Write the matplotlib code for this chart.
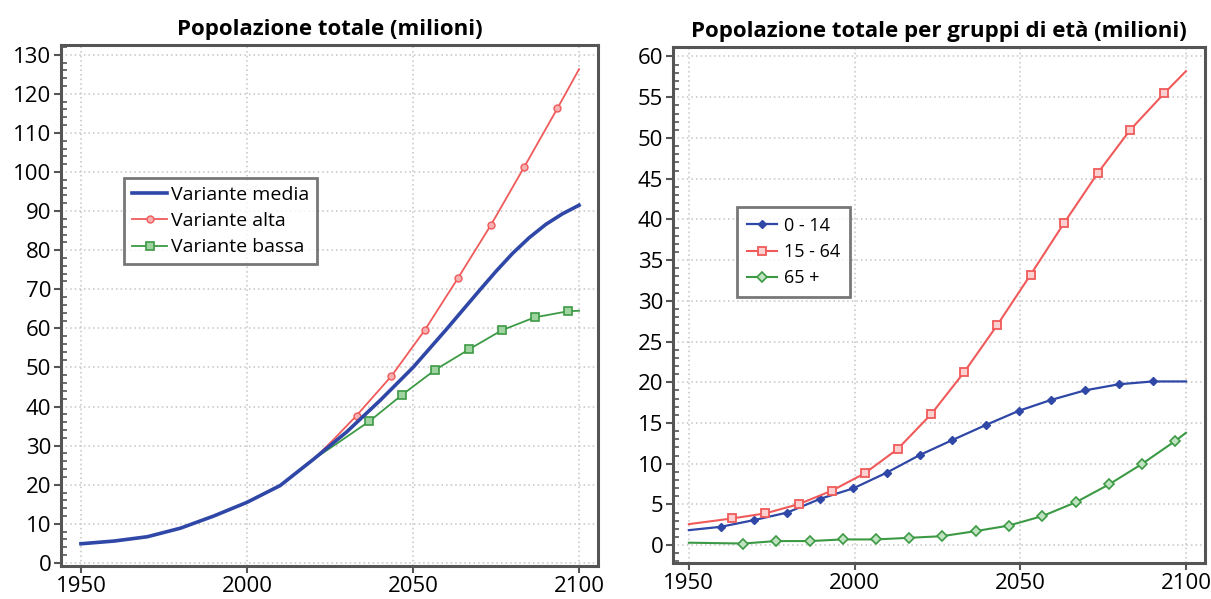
import matplotlib
matplotlib.use("Agg")
import matplotlib.pyplot as plt
from matplotlib.ticker import MultipleLocator

plt.rcParams['font.family'] = ['Open Sans', 'DejaVu Sans']

# --- left chart: total population (millions)
media_years = [1950, 1960, 1970, 1980, 1990, 2000, 2010, 2020, 2030, 2040,
               2050, 2060, 2070, 2075, 2080, 2085, 2090, 2095, 2100]
media_vals = [4.9, 5.6, 6.7, 8.9, 12.0, 15.5, 19.8, 26.5, 33.5, 41.5,
              50.0, 59.7, 69.7, 74.6, 79.2, 83.2, 86.6, 89.3, 91.5]

alta_years = [2020, 2026, 2033, 2043.5, 2053.5, 2063.5, 2073.5, 2083.5, 2093.5, 2100]
alta_vals = [26.5, 31.5, 37.7, 47.8, 59.5, 72.8, 86.5, 101.3, 116.3, 126.3]

bassa_years = [2020, 2027, 2036.8, 2046.7, 2056.7, 2067, 2076.7, 2086.6, 2096.8, 2100]
bassa_vals = [26.5, 30.5, 36.2, 43.0, 49.4, 54.7, 59.5, 62.8, 64.4, 64.5]

# --- right chart: population by age group (millions)
g014_years = [1950, 1959.6, 1969.6, 1979.7, 1989.7, 1999.6, 2009.7, 2019.7, 2029.5,
              2039.6, 2049.6, 2059.3, 2069.5, 2079.7, 2090, 2100]
g014_vals = [1.84, 2.25, 3.07, 4.0, 5.7, 6.97, 8.9, 11.07, 12.9,
             14.75, 16.5, 17.83, 19.0, 19.75, 20.1, 20.1]

g1564_years = [1950, 1963.1, 1973.1, 1983.2, 1993.1, 2003, 2013, 2023.1, 2033,
               2043.1, 2053.1, 2063.3, 2073.4, 2083.2, 2093.5, 2100]
g1564_vals = [2.58, 3.28, 3.9, 5.04, 6.68, 8.8, 11.8, 16.07, 21.2,
              27.05, 33.2, 39.6, 45.7, 51.0, 55.5, 58.2]

g65_years = [1950, 1966.4, 1976.3, 1986.5, 1996.4, 2006.4, 2016.5, 2026.4, 2036.5,
             2046.5, 2056.7, 2066.7, 2076.8, 2086.7, 2096.8, 2100]
g65_vals = [0.3, 0.2, 0.5, 0.5, 0.7, 0.7, 0.9, 1.1, 1.72,
            2.4, 3.57, 5.25, 7.46, 9.96, 12.8, 13.8]

BLUE = '#2f47a6'
RED = '#f05a5a'
GREEN = '#3c9a45'
FRAME = '#555555'

fig = plt.figure(figsize=(12.11, 5.99), dpi=100)
ax1 = fig.add_axes([0.0504, 0.055, 0.4434, 0.870])
ax2 = fig.add_axes([0.5557, 0.060, 0.4395, 0.862])


def style(ax, ymajor, yminor):
    ax.yaxis.set_major_locator(MultipleLocator(ymajor))
    ax.yaxis.set_minor_locator(MultipleLocator(yminor))
    ax.xaxis.set_major_locator(MultipleLocator(50))
    ax.grid(True, which='major', linestyle=(0, (1, 2)), color='#c4c4c4', lw=1.1)
    ax.set_axisbelow(True)
    for s in ax.spines.values():
        s.set_color(FRAME)
        s.set_linewidth(2.2)
    ax.tick_params(axis='both', which='major', direction='out', length=5,
                   width=1.5, color=FRAME, labelsize=16, pad=2)
    ax.tick_params(axis='y', which='minor', direction='in', length=4,
                   width=1.2, color=FRAME)
    ax.tick_params(axis='x', which='minor', bottom=False)


# left
ax1.plot(alta_years, alta_vals, color=RED, lw=1.3, marker='o', ms=5,
         mfc='#f8b0b0', mec=RED, mew=1, markevery=list(range(2, 9)),
         label='Variante alta', zorder=3)
ax1.plot(bassa_years, bassa_vals, color=GREEN, lw=1.3, marker='s', ms=6,
         mfc='#9fd3a0', mec=GREEN, mew=1.2, markevery=list(range(2, 9)),
         label='Variante bassa', zorder=3)
ax1.plot(media_years, media_vals, color=BLUE, lw=2.6, label='Variante media', zorder=4)
ax1.set_xlim(1944, 2105.7)
ax1.set_ylim(-0.8, 132.5)
style(ax1, 10, 2)
ax1.set_title('Popolazione totale (milioni)', fontsize=16, fontweight='bold', pad=7)
h, l = ax1.get_legend_handles_labels()
leg = ax1.legend([h[2], h[0], h[1]], [l[2], l[0], l[1]], loc='upper left',
                 bbox_to_anchor=(0.117, 0.745), fontsize=14, frameon=True,
                 fancybox=False, edgecolor=FRAME, handlelength=1.8, handletextpad=0.2,
                 labelspacing=0.42, borderpad=0.42, borderaxespad=0)
leg.get_frame().set_linewidth(2)

# right
ax2.plot(g014_years, g014_vals, color=BLUE, lw=1.6, marker='D', ms=4.5,
         mfc=BLUE, mec=BLUE, markevery=list(range(1, 15)), label='0 - 14', zorder=3)
ax2.plot(g1564_years, g1564_vals, color=RED, lw=1.5, marker='s', ms=6,
         mfc='#fbd0d0', mec=RED, mew=1.3, markevery=list(range(1, 15)),
         label='15 - 64', zorder=3)
ax2.plot(g65_years, g65_vals, color=GREEN, lw=1.5, marker='D', ms=5.5,
         mfc='#bfe3c0', mec=GREEN, mew=1.2, markevery=list(range(1, 15)),
         label='65 +', zorder=3)
ax2.set_xlim(1945.2, 2105.8)
ax2.set_ylim(-2.2, 61.2)
style(ax2, 5, 1)
ax2.set_title('Popolazione totale per gruppi di età (milioni)', fontsize=16,
              fontweight='bold', pad=7)
leg2 = ax2.legend(loc='upper left', bbox_to_anchor=(0.12, 0.69), fontsize=13,
                  frameon=True, fancybox=False, edgecolor=FRAME, handlelength=1.7,
                  handletextpad=0.35, labelspacing=0.45, borderpad=0.55, borderaxespad=0)
leg2.get_frame().set_linewidth(2)

fig.savefig('out.png', dpi=100)
